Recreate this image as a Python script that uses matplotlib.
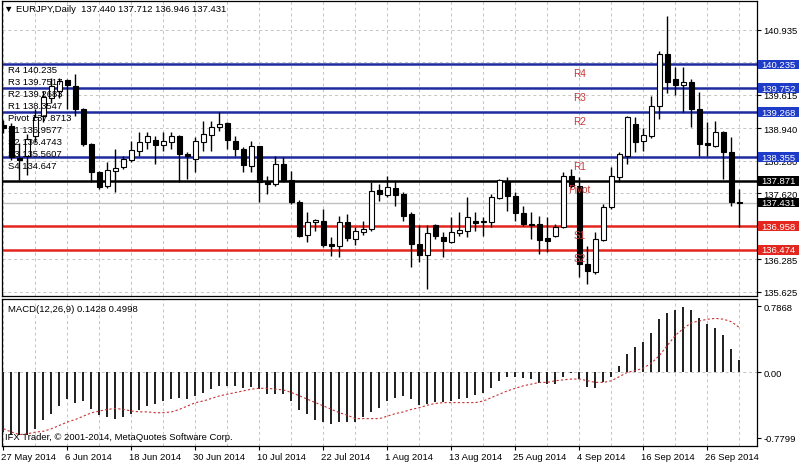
import matplotlib
matplotlib.use('Agg')
import matplotlib.pyplot as plt
import matplotlib.transforms as mtransforms
from matplotlib.patches import Rectangle
import numpy as np

plt.rcParams['font.family'] = ['Liberation Sans', 'DejaVu Sans']
plt.rcParams['font.size'] = 6.8

# EURJPY daily candles, 27 May 2014 .. 2 Oct 2014
opens = [139.00, 138.99, 138.34, 138.38, 138.78, 139.19, 139.55, 139.69, 139.92, 139.80,
         139.33, 138.62, 138.05, 137.77, 138.07, 138.16, 138.30, 138.48, 138.66, 138.70,
         138.60, 138.66, 138.78, 138.42, 138.32, 138.66, 138.80, 138.97, 139.05, 138.68,
         138.52, 138.17, 138.58, 137.86, 137.81, 138.22, 137.89, 137.44, 136.77, 137.04,
         137.06, 136.60, 136.56, 137.04, 136.69, 136.84, 136.90, 137.69, 137.59, 137.73,
         137.61, 137.20, 136.60, 136.38, 136.98, 136.73, 136.63, 136.82, 136.86, 137.06,
         137.04, 137.04, 137.53, 137.87, 137.57, 137.22, 136.99, 137.00, 136.71, 136.75,
         136.94, 137.97, 137.77, 136.19, 136.03, 136.67, 137.34, 137.95, 138.38, 139.03,
         138.68, 138.78, 139.39, 140.45, 139.93, 139.81, 139.87, 139.33, 138.64, 138.58,
         138.87, 138.46, 137.440]
highs = [139.10, 139.05, 138.65, 138.83, 139.33, 139.70, 139.95, 139.95, 139.94, 140.04,
         139.35, 138.65, 138.08, 138.25, 138.52, 138.38, 138.68, 138.87, 138.87, 138.78,
         138.87, 138.87, 138.80, 138.46, 138.76, 139.09, 139.09, 139.27, 139.07, 138.78,
         138.56, 138.68, 138.58, 137.97, 138.38, 138.36, 138.07, 137.48, 137.24, 137.10,
         137.30, 136.74, 137.16, 137.20, 136.94, 137.06, 137.85, 137.81, 137.97, 137.87,
         137.65, 137.24, 136.97, 136.97, 137.00, 136.84, 137.14, 137.24, 137.55, 137.24,
         137.14, 137.61, 137.91, 137.95, 137.65, 137.36, 137.24, 137.16, 137.14, 137.00,
         138.05, 138.11, 137.95, 136.56, 136.84, 137.40, 138.15, 138.46, 139.19, 139.17,
         138.95, 139.60, 140.51, 141.22, 140.18, 140.18, 139.93, 139.67, 139.07, 139.09,
         138.89, 138.76, 137.712]
lows = [138.85, 138.30, 137.90, 138.00, 138.66, 139.07, 139.45, 139.55, 139.33, 139.19,
        138.58, 137.85, 137.70, 137.73, 137.65, 138.12, 138.26, 138.38, 138.52, 138.22,
        138.48, 138.52, 137.85, 137.91, 138.05, 138.48, 138.48, 138.89, 138.52, 138.38,
        138.05, 138.05, 137.45, 137.61, 137.77, 137.85, 137.40, 136.73, 136.63, 136.86,
        136.54, 136.36, 136.34, 136.65, 136.58, 136.77, 136.86, 137.46, 137.55, 137.36,
        137.06, 136.13, 136.23, 135.69, 136.69, 136.34, 136.61, 136.75, 136.73, 136.86,
        136.75, 136.94, 137.51, 137.26, 137.06, 136.96, 136.69, 136.39, 136.44, 136.73,
        136.92, 137.73, 135.93, 135.79, 135.99, 136.65, 137.30, 137.85, 138.22, 138.46,
        138.48, 138.74, 139.13, 139.65, 139.61, 139.27, 138.97, 138.38, 138.38, 138.56,
        137.91, 137.36, 136.946]
closes = [138.95, 138.36, 138.30, 138.72, 139.17, 139.58, 139.80, 139.89, 139.82, 139.33,
          138.62, 138.05, 137.75, 138.09, 138.13, 138.32, 138.50, 138.66, 138.78, 138.60,
          138.68, 138.78, 138.42, 138.38, 138.68, 138.82, 138.97, 139.03, 138.70, 138.52,
          138.19, 138.58, 137.85, 137.81, 138.22, 137.87, 137.44, 136.75, 137.04, 137.08,
          136.58, 136.56, 137.04, 136.71, 136.86, 136.90, 137.67, 137.61, 137.75, 137.59,
          137.16, 136.60, 136.38, 136.81, 136.75, 136.65, 136.84, 136.88, 137.14, 137.02,
          137.06, 137.55, 137.89, 137.57, 137.22, 137.00, 136.97, 136.67, 136.65, 136.94,
          137.97, 137.77, 136.19, 136.05, 136.70, 137.34, 137.97, 138.42, 139.17, 138.66,
          138.80, 139.39, 140.45, 139.87, 139.81, 139.87, 139.33, 138.62, 138.60, 138.87,
          138.46, 137.44, 137.431]

macd_hist = [-0.71, -0.75, -0.75, -0.75, -0.67, -0.57, -0.49, -0.40, -0.32, -0.36,
             -0.34, -0.43, -0.51, -0.53, -0.55, -0.53, -0.49, -0.45, -0.40, -0.38,
             -0.34, -0.32, -0.31, -0.32, -0.28, -0.25, -0.20, -0.16, -0.16, -0.16,
             -0.19, -0.18, -0.20, -0.26, -0.26, -0.26, -0.34, -0.45, -0.49, -0.57,
             -0.59, -0.61, -0.59, -0.59, -0.59, -0.53, -0.47, -0.42, -0.34, -0.30,
             -0.28, -0.32, -0.39, -0.38, -0.35, -0.35, -0.34, -0.32, -0.30, -0.27,
             -0.25, -0.19, -0.10, -0.06, -0.06, -0.07, -0.08, -0.13, -0.14, -0.14,
             -0.06, -0.01, -0.08, -0.17, -0.19, -0.12, -0.05, 0.08, 0.22, 0.30,
             0.36, 0.47, 0.63, 0.70, 0.74, 0.77, 0.74, 0.64, 0.57, 0.52,
             0.44, 0.28, 0.1428]
macd_signal = [-0.67, -0.71, -0.74, -0.73, -0.71, -0.70, -0.67, -0.63, -0.59, -0.56,
               -0.52, -0.48, -0.46, -0.44, -0.43, -0.44, -0.46, -0.47, -0.47, -0.48,
               -0.48, -0.47, -0.44, -0.40, -0.36, -0.34, -0.31, -0.28, -0.26, -0.24,
               -0.22, -0.20, -0.19, -0.19, -0.20, -0.21, -0.24, -0.28, -0.32, -0.36,
               -0.40, -0.44, -0.48, -0.51, -0.55, -0.55, -0.55, -0.55, -0.52, -0.49,
               -0.47, -0.44, -0.42, -0.39, -0.37, -0.36, -0.36, -0.36, -0.36, -0.36,
               -0.34, -0.30, -0.26, -0.22, -0.19, -0.16, -0.14, -0.12, -0.12, -0.10,
               -0.09, -0.08, -0.08, -0.10, -0.12, -0.12, -0.10, -0.05, 0.00, 0.02,
               0.05, 0.11, 0.20, 0.32, 0.44, 0.52, 0.59, 0.61, 0.63, 0.64,
               0.63, 0.60, 0.53]

date_labels = ['27 May 2014', '6 Jun 2014', '18 Jun 2014', '30 Jun 2014', '10 Jul 2014',
               '22 Jul 2014', '1 Aug 2014', '13 Aug 2014', '25 Aug 2014', '4 Sep 2014',
               '16 Sep 2014', '26 Sep 2014']
date_bars = [0, 8, 16, 24, 32, 40, 48, 56, 64, 72, 80, 88]

# grid levels of the price scale; labels hidden under the level boxes are not printed
price_grid = [140.935, 140.275, 139.615, 138.940, 138.280, 137.620, 136.950, 136.285, 135.625]
price_ticks = [140.935, 139.615, 138.940, 138.280, 137.620, 136.285, 135.625]
macd_ticks = [0.7868, 0.0, -0.7799]
macd_tick_labels = ['0.7868', '0.00', '-0.7799']

level_names = ['R4', 'R3', 'R2', 'R1', 'Pivot', 'S1', 'S2']
level_values = [140.235, 139.752, 139.268, 138.355, 137.871, 136.958, 136.474]
pivot_lines = ['R4 140.235', 'R3 139.7517', 'R2 139.2683', 'R1 138.3547', 'Pivot 137.8713',
               'S1 136.9577', 'S2 136.4743', 'S3 135.5607', 'S4 134.647']
bid = 137.431

BLUE = '#1f2a9f'
BLUE_BOX = '#1f3cc8'
RED = '#e3261e'
level_line_colors = [BLUE] * 4 + ['black'] + [RED] * 2
level_box_colors = [BLUE_BOX] * 4 + ['black'] + [RED] * 2
GRID = '#c4c4c4'

x = np.arange(len(opens))
o = np.array(opens); h = np.array(highs); l = np.array(lows); c = np.array(closes)

fig = plt.figure(figsize=(7.99, 4.64), dpi=100)
ax = fig.add_axes([2/799, 167/464, 755/799, 295/464])
ax2 = fig.add_axes([2/799, 17/464, 755/799, 147/464])

xmin, xmax = -0.1875, 94.19
for a in (ax, ax2):
    a.set_xlim(xmin, xmax)
    for s in a.spines.values():
        s.set_linewidth(0.9)
    for k in range(0, len(x), 4):
        a.axvline(k, color=GRID, lw=0.7, ls=(0, (3, 3)), zorder=0)

ax.set_ylim(135.540, 141.519)
ax2.set_ylim(-0.875, 0.870)

# main panel grid + ticks
for p in price_grid:
    ax.axhline(p, color=GRID, lw=0.7, ls=(0, (3, 3)), zorder=0)
ax.yaxis.tick_right()
ax.set_yticks(price_ticks)
ax.set_yticklabels(['%.3f' % p for p in price_ticks])
ax.tick_params(axis='y', length=3, pad=1.5, width=0.8)
ax.set_xticks([])

# pivot level lines
ax.axhline(bid, color='#c0c0c0', lw=1, zorder=1)
for v, col in zip(level_values, level_line_colors):
    ax.axhline(v, color=col, lw=1.8, zorder=1)

# candles
up = c >= o
ax.vlines(x, l, h, color='black', lw=1, zorder=3)
body_lo = np.minimum(o, c)
body_h = np.maximum(np.abs(c - o), 0.008)
ax.bar(x[up], body_h[up], bottom=body_lo[up], width=0.62, facecolor='white',
       edgecolor='black', lw=0.8, zorder=4)
ax.bar(x[~up], body_h[~up], bottom=body_lo[~up], width=0.62, facecolor='black',
       edgecolor='black', lw=0.8, zorder=4)

# red level names
for name, v in zip(level_names, level_values):
    ax.annotate(name, (72, v), xytext=(0, -2.5), textcoords='offset points',
                ha='center', va='top', color='#c43a3a', fontsize=7.2, zorder=6)

# right price boxes
tr = mtransforms.blended_transform_factory(ax.transAxes, ax.transData)
half = 4.8 / 49.34
for v, col in zip(level_values + [bid], level_box_colors + ['black']):
    ax.add_patch(Rectangle((1 + 1/755, v - half), 41/755, 2 * half, transform=tr,
                           facecolor=col, edgecolor='none', clip_on=False, zorder=9))
    ax.text(1 + 4/755, v, '%.3f' % v, transform=tr, ha='left', va='center', color='white',
            fontsize=6.8, clip_on=False, zorder=10)

# left pivot table
for k, t in enumerate(pivot_lines):
    ax.text(6/755, 1 - (69 + 11.95 * k) / 295, t, transform=ax.transAxes,
            ha='left', va='center', color='black', fontsize=6.8, zorder=7)

ax.text(2/755, 1 - 8/295, '\u25bc EURJPY,Daily  137.440 137.712 136.946 137.431',
        transform=ax.transAxes, ha='left', va='center', fontsize=6.8, zorder=7)

# MACD panel
ax2.axhline(0, color=GRID, lw=0.7, ls=(0, (3, 3)), zorder=0)
ax2.vlines(x, 0, macd_hist, color='#1e1e1e', lw=1.4, zorder=3)
ax2.plot(x, macd_signal, color='#c83232', lw=0.8, ls=(0, (2, 2)), zorder=4)
ax2.yaxis.tick_right()
ax2.set_yticks(macd_ticks)
ax2.set_yticklabels(macd_tick_labels)
ax2.tick_params(axis='y', length=3, pad=1.5, width=0.8)
ax2.set_xticks(date_bars)
ax2.set_xticklabels(date_labels, ha='left')
ax2.tick_params(axis='x', length=3, pad=1, width=0.8)
for lab in ax2.get_xticklabels():
    lab.set_transform(lab.get_transform() + mtransforms.ScaledTranslation(-2/100, 0, fig.dpi_scale_trans))

ax2.text(6/755, 1 - 9/147, 'MACD(12,26,9) 0.1428 0.4998', transform=ax2.transAxes,
         ha='left', va='center', fontsize=6.8)
ax2.text(3/755, 9/147, 'IFX Trader, \u00a9 2001-2014, MetaQuotes Software Corp.',
         transform=ax2.transAxes, ha='left', va='center', fontsize=6.8)

fig.savefig('out.png', dpi=100, facecolor='white')
